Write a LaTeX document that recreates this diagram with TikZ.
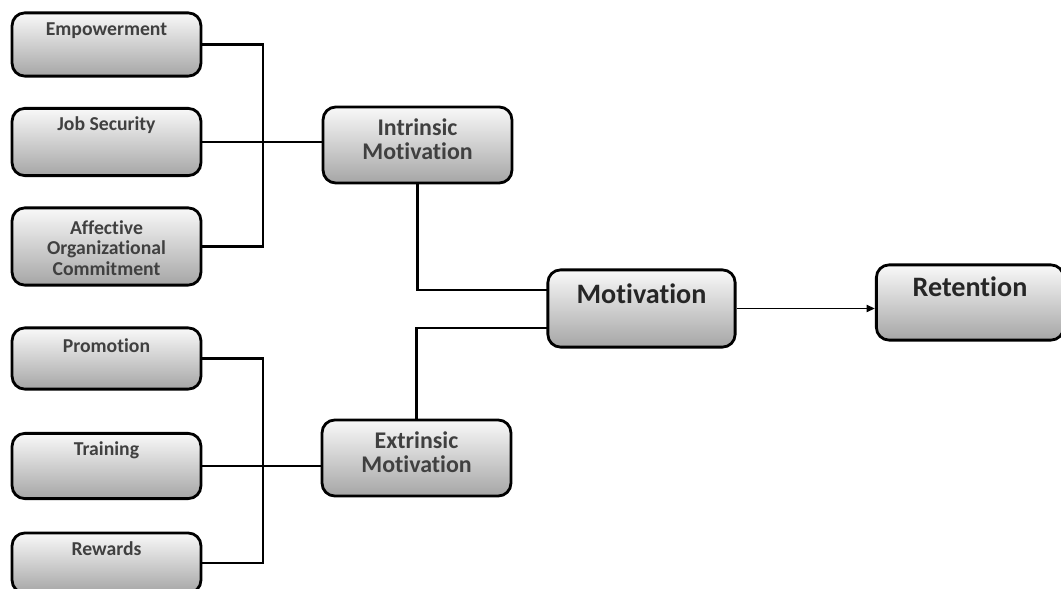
\documentclass[tikz,border=0pt]{standalone}
\usepackage{fontspec}
\setmainfont{Carlito}[Ligatures=NoCommon]
\usetikzlibrary{arrows.meta}

\begin{document}
\begin{tikzpicture}[x=0.025cm, y=-0.025cm,
  box/.style={draw=black, line width=2pt, rounded corners=9pt,
    top color=gray!5, bottom color=gray!70, minimum width=4.72cm},
  lbl/.style={font=\fontsize{14}{14.5}\selectfont\bfseries, text=black!75, align=center},
  midlbl/.style={font=\fontsize{17}{17}\selectfont\bfseries, text=black!75, align=center},
  biglbl/.style={font=\fontsize{20}{21}\selectfont\bfseries, text=black!85},
  link/.style={line width=1.9pt},
  arrow/.style={line width=1.4pt, -{Triangle[length=6pt,width=5pt]}}
]
\useasboundingbox (0,0) rectangle (1061,589);

% left column
\node[box, minimum height=1.58cm] (emp) at (106.5,44.5) {};
\node[box, minimum height=1.68cm] (job) at (106.5,142) {};
\node[box, minimum height=1.93cm] (aff) at (106.5,246.5) {};
\node[box, minimum height=1.53cm] (pro) at (106.5,358.5) {};
\node[box, minimum height=1.63cm] (tra) at (106.5,466) {};
\node[box, minimum height=1.5cm] (rew) at (106.5,563) {};

\node[lbl] (empT) at (106.5,31) {Empowerment};
\node[lbl] (jobT) at (106.5,125) {Job Security};
\node[lbl] (affT) at (106.5,248) {Affective\\Organizational\\Commitment};
\node[lbl] (proT) at (106.5,346) {Promotion};
\node[lbl] (traT) at (106.5,450) {Training};
\node[lbl] (rewT) at (106.5,549) {Rewards};

% middle column
\node[box, minimum height=1.9cm] (intr) at (417.5,145) {};
\node[box, minimum height=1.9cm] (extr) at (416.5,458) {};
\node[midlbl] (intrT) at (417.5,139) {Intrinsic\\Motivation};
\node[midlbl] (extrT) at (416.5,452) {Extrinsic\\Motivation};

% right
\node[box, minimum width=4.68cm, minimum height=1.93cm] (mot) at (641.5,308.5) {};
\node[box, minimum width=4.68cm, minimum height=1.88cm] (ret) at (970,302.5) {};
\node[biglbl] (motT) at (641.5,294) {Motivation};
\node[biglbl] (retT) at (970,287) {Retention};

\coordinate (bus1) at (263,0);
\coordinate (bus2) at (263,0);
\coordinate (mi) at (548,290);
\coordinate (me) at (548,328);

\draw[link] (emp.east) -| (bus1 |- job.east) |- (aff.east);
\draw[link] (job.east) -- (job.east -| intr.west);
\draw[link] (pro.east) -| (bus2 |- tra.east) |- (rew.east);
\draw[link] (tra.east) -- (tra.east -| extr.west);
\draw[link] (intr.south) |- (mi);
\draw[link] (extr.north) |- (me);
\draw[arrow] (mot.east) -- (mot.east -| ret.west);

\end{tikzpicture}
\end{document}
